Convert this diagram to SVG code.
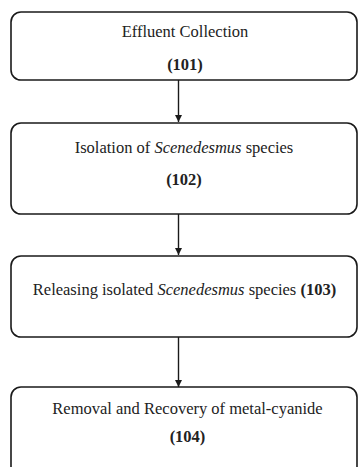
<svg xmlns="http://www.w3.org/2000/svg" width="358" height="467" viewBox="0 0 358 467">
  <style>
    .box { fill: #ffffff; stroke: #1a1a1a; stroke-width: 1.6; }
    text { font-family: 'Liberation Serif', 'DejaVu Serif', serif; font-size: 16.5px; fill: #222222; text-anchor: middle; }
    .num { font-weight: bold; }
    .it { font-style: italic; }
    .link { stroke: #1a1a1a; stroke-width: 1.4; fill: none; marker-end: url(#arrow); }
  </style>
  <defs>
    <marker id="arrow" markerWidth="8" markerHeight="8" refX="7" refY="4" orient="auto" markerUnits="userSpaceOnUse">
      <path d="M0,0.5 L7,4 L0,7.5 Z" fill="#1a1a1a"/>
    </marker>
  </defs>
  <rect width="358" height="467" fill="#ffffff"/>

  <g id="connectors">
    <line class="link" x1="178.5" y1="80" x2="178.5" y2="122"/>
    <line class="link" x1="178.5" y1="214" x2="178.5" y2="255"/>
    <line class="link" x1="178.5" y1="337" x2="178.5" y2="387"/>
  </g>

  <g id="node-101">
    <rect class="box" x="11" y="12" width="346" height="68" rx="10"/>
    <text x="185" y="37" font-family="Liberation Serif, serif">Effluent Collection</text>
    <text class="num" x="185" y="70" font-family="Liberation Serif, serif">(101)</text>
  </g>

  <g id="node-102">
    <rect class="box" x="11" y="123" width="346" height="91" rx="10"/>
    <text x="184" y="153" font-family="Liberation Serif, serif">Isolation of <tspan class="it">Scenedesmus</tspan> species</text>
    <text class="num" x="184" y="185" font-family="Liberation Serif, serif">(102)</text>
  </g>

  <g id="node-103">
    <rect class="box" x="11" y="256" width="346" height="81" rx="10"/>
    <text x="184.5" y="295" font-family="Liberation Serif, serif">Releasing isolated <tspan class="it">Scenedesmus</tspan> species <tspan class="num">(103)</tspan></text>
  </g>

  <g id="node-104">
    <rect class="box" x="11" y="387" width="346" height="90" rx="10"/>
    <text x="187.5" y="414" font-family="Liberation Serif, serif">Removal and Recovery of metal-cyanide</text>
    <text class="num" x="187.5" y="442" font-family="Liberation Serif, serif">(104)</text>
  </g>
</svg>
